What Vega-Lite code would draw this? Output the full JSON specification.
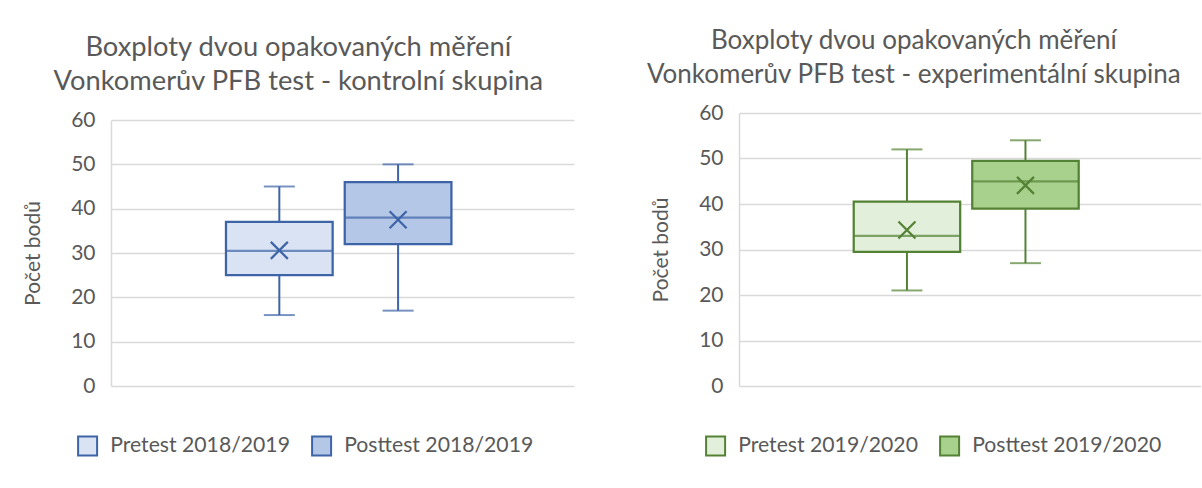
{
  "$schema": "https://vega.github.io/schema/vega-lite/v6.json",
  "background": "white",
  "padding": {"left": 22, "top": 28, "right": 0, "bottom": 0},
  "autosize": {"type": "pad"},
  "config": {
    "font": "Lato",
    "view": {"stroke": null},
    "concat": {"spacing": 72},
    "title": {"fontSize": 27.3, "fontWeight": "normal", "color": "#595959", "lineHeight": 34, "anchor": "middle", "frame": "bounds", "offset": 14},
    "axisY": {
      "grid": true, "gridColor": "#d9d9d9", "gridWidth": 1.5,
      "domainColor": "#d9d9d9", "domainWidth": 1.5,
      "ticks": false, "labelPadding": 16, "labelColor": "#595959", "labelFontSize": 21,
      "titleColor": "#595959", "titleFontSize": 21, "titleFontWeight": "normal", "titlePadding": 27,
      "tickCount": 6
    },
    "legend": {
      "orient": "none", "direction": "horizontal", "title": null,
      "symbolType": "square", "symbolSize": 361, "symbolStrokeWidth": 2,
      "labelFontSize": 21.2, "labelColor": "#595959", "labelOffset": 12, "labelLimit": 0,
      "columnPadding": 18, "padding": 0, "symbolOpacity": 1
    }
  },
  "resolve": {"scale": {"fill": "independent", "x": "independent", "y": "independent"}, "legend": {"fill": "independent"}},
  "hconcat": [
    {
      "width": 463, "height": 273,
      "title": {"text": ["Boxploty dvou opakovaných měření", "Vonkomerův PFB test - kontrolní skupina"]},
      "data": {"values": [
        {"serie": "Pretest 2018/2019", "min": 16, "q1": 25, "median": 30.5, "q3": 37, "max": 45, "mean": 30.6},
        {"serie": "Posttest 2018/2019", "min": 17, "q1": 32, "median": 38, "q3": 46, "max": 50, "mean": 37.5}
      ]},
      "encoding": {
        "x": {"field": "serie", "type": "nominal", "sort": null, "axis": null,
              "scale": {"type": "band", "domain": ["Pretest 2018/2019", "Posttest 2018/2019"], "paddingInner": 0.1017, "paddingOuter": 1.0127, "align": 0.484}}
      },
      "layer": [
        {"mark": {"type": "rule", "stroke": "#3e64a8", "strokeWidth": 2},
         "encoding": {"y": {"field": "min", "type": "quantitative", "title": "Počet bodů", "scale": {"domain": [0, 60], "nice": false, "range": [273, 7]}}, "y2": {"field": "max"}}},
        {"mark": {"type": "bar", "stroke": "#3e64a8", "strokeWidth": 2.25},
         "encoding": {"y": {"field": "q1", "type": "quantitative", "title": "Počet bodů"}, "y2": {"field": "q3"},
                      "fill": {"field": "serie", "type": "nominal", "sort": null,
                               "scale": {"domain": ["Pretest 2018/2019", "Posttest 2018/2019"], "range": ["#dae3f3", "#b4c7e7"]},
                               "legend": {"symbolStrokeColor": "#3e64a8", "legendX": -34, "legendY": 322}}}},
        {"mark": {"type": "tick", "color": "#3e64a8", "thickness": 2.25, "size": 106, "orient": "horizontal"},
         "encoding": {"y": {"field": "median", "type": "quantitative", "title": "Počet bodů"}}},
        {"mark": {"type": "tick", "color": "#3e64a8", "thickness": 2, "size": 31, "orient": "horizontal"},
         "encoding": {"y": {"field": "min", "type": "quantitative", "title": "Počet bodů"}}},
        {"mark": {"type": "tick", "color": "#3e64a8", "thickness": 2, "size": 31, "orient": "horizontal"},
         "encoding": {"y": {"field": "max", "type": "quantitative", "title": "Počet bodů"}}},
        {"mark": {"type": "point", "shape": "M-1,-1L1,1M-1,1L1,-1", "filled": false, "stroke": "#3e64a8", "strokeWidth": 2.25, "size": 289, "opacity": 1},
         "encoding": {"y": {"field": "mean", "type": "quantitative", "title": "Počet bodů"}}}
      ]
    },
    {
      "width": 462, "height": 273,
      "title": {"text": ["Boxploty dvou opakovaných měření", "Vonkomerův PFB test - experimentální skupina"], "fontSize": 26, "dx": -12},
      "data": {"values": [
        {"serie": "Pretest 2019/2020", "min": 21, "q1": 29.5, "median": 33, "q3": 40.5, "max": 52, "mean": 34.3},
        {"serie": "Posttest 2019/2020", "min": 27, "q1": 39, "median": 45, "q3": 49.5, "max": 54, "mean": 44.1}
      ]},
      "encoding": {
        "x": {"field": "serie", "type": "nominal", "sort": null, "axis": null,
              "scale": {"type": "band", "domain": ["Pretest 2019/2020", "Posttest 2019/2020"], "paddingInner": 0.1017, "paddingOuter": 1.0127, "align": 0.484}}
      },
      "layer": [
        {"mark": {"type": "rule", "stroke": "#548235", "strokeWidth": 2},
         "encoding": {"y": {"field": "min", "type": "quantitative", "title": "Počet bodů", "scale": {"domain": [0, 60], "nice": false}}, "y2": {"field": "max"}}},
        {"mark": {"type": "bar", "stroke": "#548235", "strokeWidth": 2.25},
         "encoding": {"y": {"field": "q1", "type": "quantitative", "title": "Počet bodů"}, "y2": {"field": "q3"},
                      "fill": {"field": "serie", "type": "nominal", "sort": null,
                               "scale": {"domain": ["Pretest 2019/2020", "Posttest 2019/2020"], "range": ["#e2efda", "#a9d18e"]},
                               "legend": {"symbolStrokeColor": "#548235", "legendX": -34, "legendY": 322}}}},
        {"mark": {"type": "tick", "color": "#548235", "thickness": 2.25, "size": 106, "orient": "horizontal"},
         "encoding": {"y": {"field": "median", "type": "quantitative", "title": "Počet bodů"}}},
        {"mark": {"type": "tick", "color": "#548235", "thickness": 2, "size": 31, "orient": "horizontal"},
         "encoding": {"y": {"field": "min", "type": "quantitative", "title": "Počet bodů"}}},
        {"mark": {"type": "tick", "color": "#548235", "thickness": 2, "size": 31, "orient": "horizontal"},
         "encoding": {"y": {"field": "max", "type": "quantitative", "title": "Počet bodů"}}},
        {"mark": {"type": "point", "shape": "M-1,-1L1,1M-1,1L1,-1", "filled": false, "stroke": "#548235", "strokeWidth": 2.25, "size": 289, "opacity": 1},
         "encoding": {"y": {"field": "mean", "type": "quantitative", "title": "Počet bodů"}}}
      ]
    }
  ]
}
